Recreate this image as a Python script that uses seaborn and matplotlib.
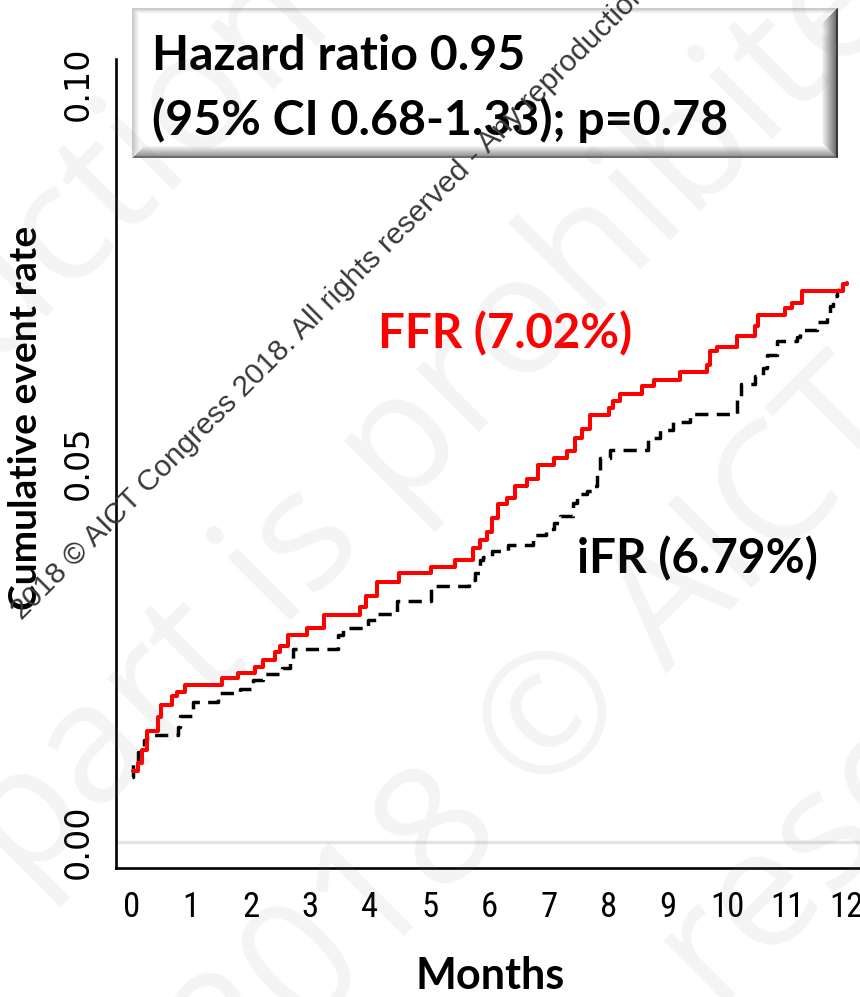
import numpy as np
import pandas as pd
import matplotlib
matplotlib.use("Agg")
import matplotlib.pyplot as plt
from matplotlib import font_manager
import seaborn as sns

# ---- data: cumulative event rate step points (months, rate) ----
ffr_months = [0.02, 0.11, 0.17, 0.25, 0.45, 0.50, 0.67, 0.76, 0.90, 1.51, 1.79, 2.07,
              2.21, 2.41, 2.49, 2.63, 2.94, 3.22, 3.83, 3.94, 4.11, 4.48, 5.02, 5.43,
              5.73, 5.85, 5.96, 6.05, 6.15, 6.29, 6.43, 6.63, 6.82, 7.08, 7.30, 7.44,
              7.55, 7.69, 8.01, 8.08, 8.19, 8.57, 8.76, 9.20, 9.65, 9.70, 9.82, 10.15,
              10.46, 10.51, 10.96, 11.08, 11.24, 11.94, 12.00]
ffr_rate = [0.0093, 0.0104, 0.0121, 0.0146, 0.0165, 0.0181, 0.0192, 0.0198, 0.0207, 0.0216,
            0.0223, 0.0231, 0.0240, 0.0250, 0.0258, 0.0273, 0.0282, 0.0299, 0.0310, 0.0324,
            0.0343, 0.0354, 0.0363, 0.0371, 0.0388, 0.0398, 0.0408, 0.0427, 0.0445, 0.0453,
            0.0469, 0.0479, 0.0497, 0.0506, 0.0515, 0.0533, 0.0544, 0.0563, 0.0572, 0.0581,
            0.0590, 0.0601, 0.0609, 0.0620, 0.0629, 0.0647, 0.0653, 0.0667, 0.0680, 0.0695,
            0.0704, 0.0711, 0.0726, 0.0735, 0.0737]

ifr_months = [0.00, 0.03, 0.11, 0.20, 0.25, 0.78, 0.81, 1.03, 1.45, 1.82, 2.04, 2.21,
              2.52, 2.66, 2.71, 3.47, 3.55, 3.97, 4.11, 4.46, 5.02, 5.66, 5.76, 5.84,
              5.90, 6.05, 6.31, 6.73, 6.96, 7.08, 7.19, 7.41, 7.47, 7.64, 7.72, 7.80,
              7.86, 8.02, 8.66, 8.86, 9.08, 9.37, 10.16, 10.22, 10.46, 10.60, 10.66,
              10.82, 11.16, 11.22, 11.50, 11.66, 11.72, 11.77, 11.84, 11.88]
ifr_rate = [0.0086, 0.0104, 0.0119, 0.0135, 0.0141, 0.0152, 0.0166, 0.0184, 0.0196, 0.0202,
            0.0214, 0.0221, 0.0229, 0.0239, 0.0255, 0.0273, 0.0282, 0.0293, 0.0300, 0.0317,
            0.0337, 0.0345, 0.0354, 0.0371, 0.0375, 0.0383, 0.0392, 0.0405, 0.0413, 0.0421,
            0.0429, 0.0447, 0.0458, 0.0463, 0.0469, 0.0486, 0.0506, 0.0516, 0.0533, 0.0543,
            0.0554, 0.0564, 0.0582, 0.0604, 0.0614, 0.0625, 0.0642, 0.0660, 0.0665, 0.0675,
            0.0686, 0.0696, 0.0706, 0.0719, 0.0727, 0.0729]

x_ticks = list(range(13))
x_tick_labels = [str(m) for m in x_ticks]
y_ticks = [0.00, 0.05, 0.10]
y_tick_labels = ["0.00", "0.05", "0.10"]

hr_lines = ["Hazard ratio 0.95", "(95% CI 0.68-1.33); p=0.78"]
ffr_label = "FFR (7.02%)"
ifr_label = "iFR (6.79%)"
x_title = "Months"
y_title = "Cumulative event rate"
notice = ("2018 \u00a9 AICT Congress 2018. All rights reserved - "
          "Any reproduction in part is prohibited")

# ---- styling ----
sns.set_style("white")
plt.rcParams["font.family"] = ["DejaVu Sans"]

# narrow face for the month numbers, if one is installed
fonts = font_manager.fontManager.ttflist
narrow_props = dict(family="DejaVu Sans", size=20)
for f in fonts:
    if f.name in ("Liberation Sans Narrow", "DejaVu Sans Condensed", "Roboto Condensed"):
        narrow_props = dict(family=f.name, size=25)
        break
else:
    for f in fonts:
        if f.name == "DejaVu Sans" and str(f.stretch) in ("condensed", "semi-condensed"):
            narrow_props = dict(family="DejaVu Sans", size=23, stretch="condensed")
            break

BOLD = ["Lato", "DejaVu Sans"]

W, H = 860, 997
fig = plt.figure(figsize=(W / 100, H / 100), dpi=100)
fig.patch.set_facecolor("white")


def fx(x):
    return x / W


def fy(y):
    return 1 - y / H


ax = fig.add_axes([fx(116), fy(868), fx(860) - fx(116), fy(59) - fy(868)])
ax.set_facecolor("white")

df_ffr = pd.DataFrame({"months": ffr_months, "rate": ffr_rate})
df_ifr = pd.DataFrame({"months": ifr_months, "rate": ifr_rate})

ax.axhline(0, color="#e4e4e4", lw=2.4, zorder=1)
sns.lineplot(data=df_ifr, x="months", y="rate", ax=ax, color="black", lw=2.5,
             drawstyle="steps-post", sort=False, estimator=None, zorder=3)
ax.lines[-1].set_dashes((3.8, 2.4))
sns.lineplot(data=df_ffr, x="months", y="rate", ax=ax, color="#ff0000", lw=2.9,
             drawstyle="steps-post", sort=False, estimator=None, zorder=4)

ax.set_xlim(-0.262, 12.22)
ax.set_ylim(-0.00343, 0.1032)
ax.set_xticks(x_ticks)
ax.set_xticklabels(x_tick_labels)
ax.set_yticks(y_ticks)
ax.set_yticklabels(y_tick_labels)
ax.tick_params(axis="x", direction="out", length=10.5, width=1.2, pad=6, colors="black")
ax.tick_params(axis="y", direction="out", length=7, width=1.2, pad=8, colors="black")
for lab in ax.get_xticklabels():
    lab.set_family(narrow_props["family"])
    lab.set_fontsize(narrow_props["size"])
    if "stretch" in narrow_props:
        lab.set_stretch(narrow_props["stretch"])
for lab in ax.get_yticklabels():
    lab.set_family("DejaVu Sans")
    lab.set_fontsize(24)
    lab.set_rotation(90)
    lab.set_va("center")
ax.set_xlabel("")
ax.set_ylabel("")
for side in ("top", "right"):
    ax.spines[side].set_visible(False)
for side in ("left", "bottom"):
    ax.spines[side].set_linewidth(1.9)
    ax.spines[side].set_color("black")

renderer = fig.canvas.get_renderer()


def fit(t, target, vertical=False):
    bb = t.get_window_extent(renderer)
    size = bb.height if vertical else bb.width
    t.set_fontsize(t.get_fontsize() * target / size)


# curve labels
t = fig.text(fx(378), fy(348), ffr_label, color="#ff0000", fontweight="bold",
             family=BOLD, fontsize=34, ha="left", va="baseline", zorder=10)
fit(t, 254)
t = fig.text(fx(577), fy(573), ifr_label, color="black", fontweight="bold",
             family=BOLD, fontsize=34, ha="left", va="baseline", zorder=10)
fit(t, 241)

# axis titles
t = fig.text(fx(490), fy(989), x_title, color="black", fontweight="bold",
             family=BOLD, fontsize=34, ha="center", va="baseline")
fit(t, 149)
t = fig.text(fx(26), fy(418), y_title, color="black", fontweight="bold",
             family=BOLD, fontsize=28, ha="center", va="center", rotation=90)
fit(t, 384, vertical=True)


# bevelled box for the hazard ratio
def bevel(h, w):
    yy, xx = np.mgrid[0:h, 0:w].astype(float)
    d = np.stack([xx, w - 1 - xx, yy, h - 1 - yy])
    edge = d.argmin(0)
    dist = d.min(0)
    g = np.ones((h, w))
    # left, right, top, bottom: (edge line tone, ramp start tone, ramp width)
    spec = [(0.80, 0.86, 7), (0.22, 0.45, 16), (0.80, 0.88, 5), (0.42, 0.60, 12)]
    for k, (line, start, width) in enumerate(spec):
        m = edge == k
        ramp = np.clip(start + (1 - start) * (dist - 2) / (width - 2), start, 1)
        g[m] = np.where(dist[m] < 2, line, ramp[m])
    return np.dstack([g, g, g])


bx0, by0, bx1, by1 = 132, 8, 838, 158
box_ax = fig.add_axes([fx(bx0), fy(by1), fx(bx1) - fx(bx0), fy(by0) - fy(by1)], zorder=5)
box_ax.imshow(bevel(by1 - by0, bx1 - bx0), aspect="auto", interpolation="bilinear")
box_ax.set_axis_off()

t1 = fig.text(fx(152), fy(70), hr_lines[0], color="black", fontweight="bold",
              family=BOLD, fontsize=34, ha="left", va="baseline", zorder=20)
t2 = fig.text(fx(152), fy(135), hr_lines[1], color="black", fontweight="bold",
              family=BOLD, fontsize=34, ha="left", va="baseline", zorder=20)
fit(t2, 576)
t1.set_fontsize(t2.get_fontsize())

# large faint background lettering
faint = dict(family=["Open Sans", "DejaVu Sans"], fontsize=120, color="#808080",
             alpha=0.085, rotation=45, rotation_mode="anchor", va="center", zorder=50)
fig.text(fx(306), fy(-4), "Any reproduction", ha="right", **faint)
fig.text(fx(-8), fy(858), "part is prohibited", ha="left", **faint)
fig.text(fx(207), fy(1072), "2018 \u00a9 AICT Congress", ha="left", **faint)
fig.text(fx(682), fy(973), "reserved", ha="left", **faint)

# diagonal notice
fig.text(fx(22), fy(621), notice, family=["Liberation Sans", "DejaVu Sans"], fontsize=21.5,
         color="#383838", rotation=45, rotation_mode="anchor", ha="left",
         va="baseline", zorder=60)

fig.savefig("out.png", dpi=100, facecolor="white")
